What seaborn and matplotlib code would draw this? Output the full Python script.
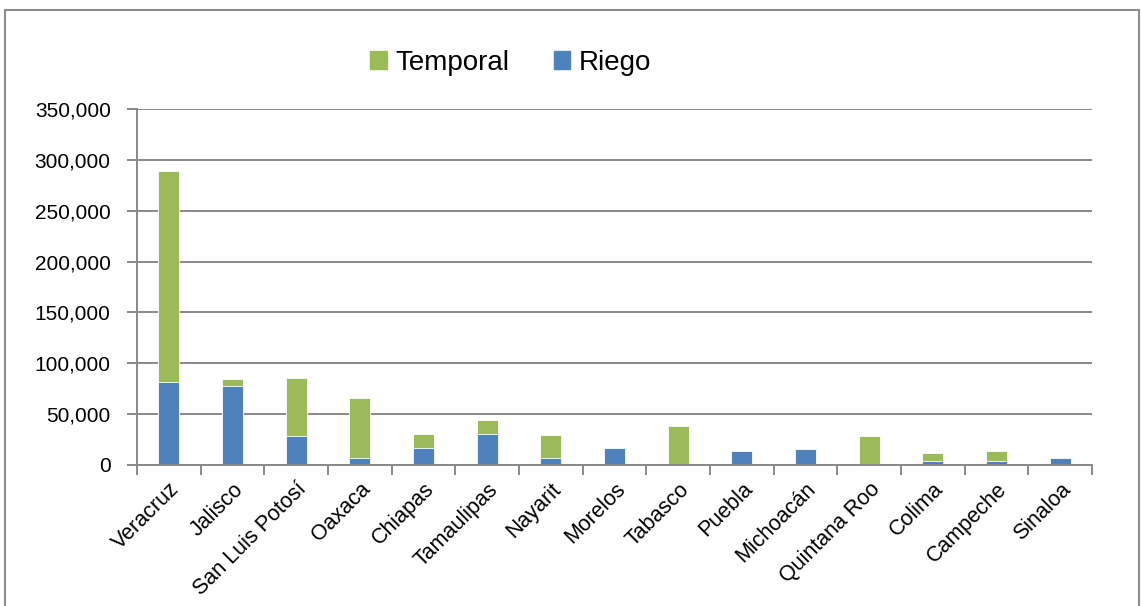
import pandas as pd
import matplotlib.pyplot as plt
import seaborn as sns
from matplotlib.patches import Patch, Rectangle
from matplotlib.ticker import FuncFormatter, MultipleLocator

# Data (hectares)
estados = ["Veracruz", "Jalisco", "San Luis Potosí", "Oaxaca", "Chiapas",
           "Tamaulipas", "Nayarit", "Morelos", "Tabasco", "Puebla",
           "Michoacán", "Quintana Roo", "Colima", "Campeche", "Sinaloa"]
riego = [82000, 77500, 28200, 6600, 16400, 30500, 7200, 16400, 300, 13800,
         15400, 1300, 4300, 3900, 6600]
temporal = [207000, 7400, 57700, 59000, 14400, 13700, 22000, 0, 38400, 0,
            0, 27500, 7200, 10200, 0]

df = pd.DataFrame({"estado": estados, "riego": riego, "temporal": temporal})
df["total"] = df["riego"] + df["temporal"]

green = "#9BBB59"
blue = "#4F81BD"
grid_c = "#898989"

sns.set_style("white")
plt.rcParams["font.family"] = ["Liberation Sans", "DejaVu Sans"]
plt.rcParams["text.color"] = "black"
plt.rcParams["xtick.color"] = "black"
plt.rcParams["ytick.color"] = "black"

fig = plt.figure(figsize=(11.42, 6.06), dpi=100)
ax = fig.add_axes([0.12, 0.2327, 0.8363, 0.5873])

# stacked bars: total in green, riego on top in blue
sns.barplot(data=df, x="estado", y="total", color=green, width=0.33,
            saturation=1, ax=ax, edgecolor="white", linewidth=0.6)
sns.barplot(data=df, x="estado", y="riego", color=blue, width=0.33,
            saturation=1, ax=ax, edgecolor="white", linewidth=0.6)

ax.set_ylim(0, 350000)
ax.set_xlim(-0.5, len(estados) - 0.5)
ax.yaxis.set_major_locator(MultipleLocator(50000))
ax.yaxis.set_major_formatter(FuncFormatter(lambda v, p: f"{int(v):,}"))
ax.set_xlabel("")
ax.set_ylabel("")

ax.set_axisbelow(True)
ax.grid(axis="y", color=grid_c, linewidth=1.4)
for s in ["top", "right"]:
    ax.spines[s].set_visible(False)
for s in ["left", "bottom"]:
    ax.spines[s].set_color(grid_c)
    ax.spines[s].set_linewidth(1.4)

ax.set_xticks(range(len(estados)))
ax.set_xticklabels(estados, rotation=45, ha="right", rotation_mode="anchor",
                   fontsize=15.5)
ax.set_xticks([i - 0.5 for i in range(len(estados) + 1)], minor=True)
ax.tick_params(axis="x", which="major", length=0, pad=10)
ax.tick_params(axis="x", which="minor", length=7, width=1.4, color=grid_c,
               direction="out", bottom=True)
ax.tick_params(axis="y", length=7, width=1.4, color=grid_c, left=True,
               labelsize=15, pad=12)

handles = [Patch(color=green, label="Temporal"), Patch(color=blue, label="Riego")]
fig.legend(handles=handles, loc="center", bbox_to_anchor=(0.447, 0.896),
           ncol=2, frameon=False, fontsize=20, handlelength=0.6,
           handleheight=0.6, handletextpad=0.3, columnspacing=1.6)

fig.patches.append(Rectangle((0.004, -0.05), 0.993, 1.033, transform=fig.transFigure,
                             fill=False, edgecolor="#8c8c8c", linewidth=1.5))

fig.savefig("out.png", dpi=100)
